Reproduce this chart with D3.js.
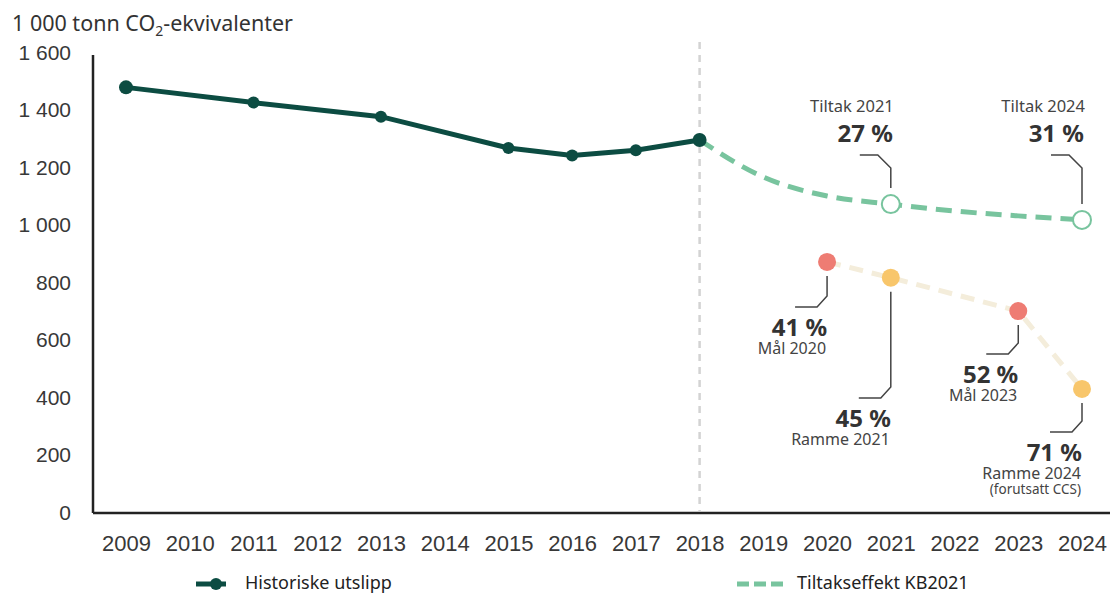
<!DOCTYPE html>
<html>
<head>
  <meta charset="utf-8">
  <style>
    body { margin: 0; padding: 0; background: white; font-family: "Noto Sans", sans-serif; }
    .tick text { fill: #383838; }
    .ann-big { font-weight: bold; font-size: 24px; fill: #333; }
    .ann-small { font-size: 16px; fill: #444; }
    .callout { fill: none; stroke: #444; stroke-width: 1.5; }
  </style>
</head>
<body>
  <div id="chart"></div>
  <script src="https://d3js.org/d3.v7.min.js"></script>
  <script>
    // years on the x axis
    var years = ["2009","2010","2011","2012","2013","2014","2015","2016","2017","2018","2019","2020","2021","2022","2023","2024"]
    var yTicks = [0, 200, 400, 600, 800, 1000, 1200, 1400, 1600]

    // historic emissions
    var histYears = ["2009","2011","2013","2015","2016","2017","2018"]
    var histValues = [1477, 1424, 1375, 1266, 1240, 1258, 1294]

    // effect of measures KB2021
    var tiltakYears = ["2018","2019","2020","2021","2022","2023","2024"]
    var tiltakValues = [1294, 1165, 1099, 1071, 1047, 1030, 1016]

    // targets / frames
    var targetYears = ["2020","2021","2023","2024"]
    var targetValues = [870, 815, 699, 428]
    var targetTypes = ["mal","ramme","mal","ramme"]

    var width = 1110, height = 594

    var svg = d3.select("#chart").append("svg")
      .attr("width", width)
      .attr("height", height)

    var x = d3.scalePoint().domain(years).range([126, 1082])
    var y = d3.scaleLinear().domain([0, 1600]).range([512, 52])

    // title
    var title = svg.append("text")
      .attr("x", 12).attr("y", 31)
      .style("font-size", "21.5px").style("fill", "#333")
    title.append("tspan").text("1 000 tonn CO")
    title.append("tspan").attr("dy", 5).style("font-size", "14px").text("2")
    title.append("tspan").attr("dy", -5).text("-ekvivalenter")

    // y axis
    var yAxis = svg.append("g")
      .attr("transform", "translate(93,0)")
      .call(d3.axisLeft(y).tickValues(yTicks).tickSize(0).tickPadding(22)
        .tickFormat(function (d) { return d3.format(",")(d).replace(",", " ") }))
    yAxis.select(".domain").attr("stroke", "#222").attr("stroke-width", 2.5)
      .attr("d", "M0,55V513")
    yAxis.selectAll(".tick text").attr("dy", "0.35em").style("font-size", "21px")

    // x axis
    var xAxis = svg.append("g")
      .attr("transform", "translate(0,513)")
      .call(d3.axisBottom(x).tickSize(0).tickPadding(22))
    xAxis.select(".domain").attr("stroke", "#222").attr("stroke-width", 2.5)
      .attr("d", "M93,0H1110")
    xAxis.selectAll(".tick text").style("font-size", "22px")

    // vertical dashed line at 2018
    svg.append("line")
      .attr("x1", x("2018")).attr("x2", x("2018"))
      .attr("y1", 42).attr("y2", 511)
      .attr("stroke", "#d3d3d3").attr("stroke-width", 2.5)
      .attr("stroke-dasharray", "7,6")

    // targets dashed line
    var targetLine = d3.line()
      .x(function (d, i) { return x(targetYears[i]) })
      .y(function (d) { return y(d) })
    svg.append("path")
      .datum(targetValues)
      .attr("d", targetLine)
      .attr("fill", "none")
      .attr("stroke", "#f4eddb")
      .attr("stroke-width", 5)
      .attr("stroke-dasharray", "14,9")

    // tiltak dashed line
    var tiltakLine = d3.line()
      .x(function (d, i) { return x(tiltakYears[i]) })
      .y(function (d) { return y(d) })
      .curve(d3.curveMonotoneX)
    svg.append("path")
      .datum(tiltakValues)
      .attr("d", tiltakLine)
      .attr("fill", "none")
      .attr("stroke", "#78c49e")
      .attr("stroke-width", 5)
      .attr("stroke-dasharray", "16,9")

    // open circles on tiltak 2021 and 2024
    svg.append("g").selectAll("circle")
      .data(["2021", "2024"])
      .enter().append("circle")
      .attr("cx", function (d) { return x(d) })
      .attr("cy", function (d) { return y(tiltakValues[tiltakYears.indexOf(d)]) })
      .attr("r", 9)
      .attr("fill", "white")
      .attr("stroke", "#78c49e")
      .attr("stroke-width", 2)

    // historic line
    var histLine = d3.line()
      .x(function (d, i) { return x(histYears[i]) })
      .y(function (d) { return y(d) })
    svg.append("path")
      .datum(histValues)
      .attr("d", histLine)
      .attr("fill", "none")
      .attr("stroke", "#0c4c42")
      .attr("stroke-width", 5)
    svg.append("g").selectAll("circle")
      .data(histValues)
      .enter().append("circle")
      .attr("cx", function (d, i) { return x(histYears[i]) })
      .attr("cy", function (d) { return y(d) })
      .attr("r", function (d, i) { return (i == 0 || i == histValues.length - 1) ? 7 : 6 })
      .attr("fill", "#0c4c42")

    // target points
    svg.append("g").selectAll("circle")
      .data(targetValues)
      .enter().append("circle")
      .attr("cx", function (d, i) { return x(targetYears[i]) })
      .attr("cy", function (d) { return y(d) })
      .attr("r", 9)
      .attr("fill", function (d, i) { return targetTypes[i] == "mal" ? "#ee7c73" : "#f8c66b" })

    // callouts pointing up (tiltak)
    function calloutUp(year, value, big, small) {
      var cx = x(year), cy = y(value)
      var top = 155
      svg.append("path").attr("class", "callout")
        .attr("d", "M" + (cx - 31) + "," + top + "H" + (cx - 13) + "L" + cx + "," + (top + 13) + "V" + (cy - 16))
      svg.append("text").attr("class", "ann-big")
        .attr("x", cx + 2).attr("y", 142).attr("text-anchor", "end").text(big)
      svg.append("text").attr("class", "ann-small")
        .attr("x", cx + 3).attr("y", 112).attr("text-anchor", "end").style("font-size", "16.5px").text(small)
    }
    calloutUp("2021", 1071, "27 %", "Tiltak 2021")
    calloutUp("2024", 1016, "31 %", "Tiltak 2024")

    // callouts pointing down (targets)
    function calloutDown(year, value, bend, big, smalls) {
      var cx = x(year), cy = y(value)
      var h = bend + 11
      svg.append("path").attr("class", "callout")
        .attr("d", "M" + cx + "," + (cy + 14) + "V" + bend + "L" + (cx - 10) + "," + h + "H" + (cx - 32))
      svg.append("text").attr("class", "ann-big")
        .attr("x", cx).attr("y", h + 29).attr("text-anchor", "end").text(big)
      smalls.forEach(function (s, i) {
        svg.append("text").attr("class", "ann-small")
          .attr("x", cx - 1).attr("y", h + 47 + i * 15).attr("text-anchor", "end")
          .style("font-size", i == 1 ? "13.5px" : "16px").text(s)
      })
    }
    calloutDown("2020", 870, 296, "41 %", ["Mål 2020"])
    calloutDown("2021", 815, 387, "45 %", ["Ramme 2021"])
    calloutDown("2023", 699, 343, "52 %", ["Mål 2023"])
    calloutDown("2024", 428, 421, "71 %", ["Ramme 2024", "(forutsatt CCS)"])

    // legend
    var legend = svg.append("g")
    legend.append("line")
      .attr("x1", 196).attr("x2", 226).attr("y1", 584).attr("y2", 584)
      .attr("stroke", "#0c4c42").attr("stroke-width", 5)
    legend.append("circle").attr("cx", 216).attr("cy", 584).attr("r", 6).attr("fill", "#0c4c42")
    legend.append("text").attr("x", 245).attr("y", 589)
      .style("font-size", "18px").style("fill", "#222").text("Historiske utslipp")
    legend.append("line")
      .attr("x1", 737).attr("x2", 786).attr("y1", 584).attr("y2", 584)
      .attr("stroke", "#78c49e").attr("stroke-width", 5).attr("stroke-dasharray", "12,5")
    legend.append("text").attr("x", 797).attr("y", 589)
      .style("font-size", "18px").style("fill", "#222").text("Tiltakseffekt KB2021")
  </script>
</body>
</html>
